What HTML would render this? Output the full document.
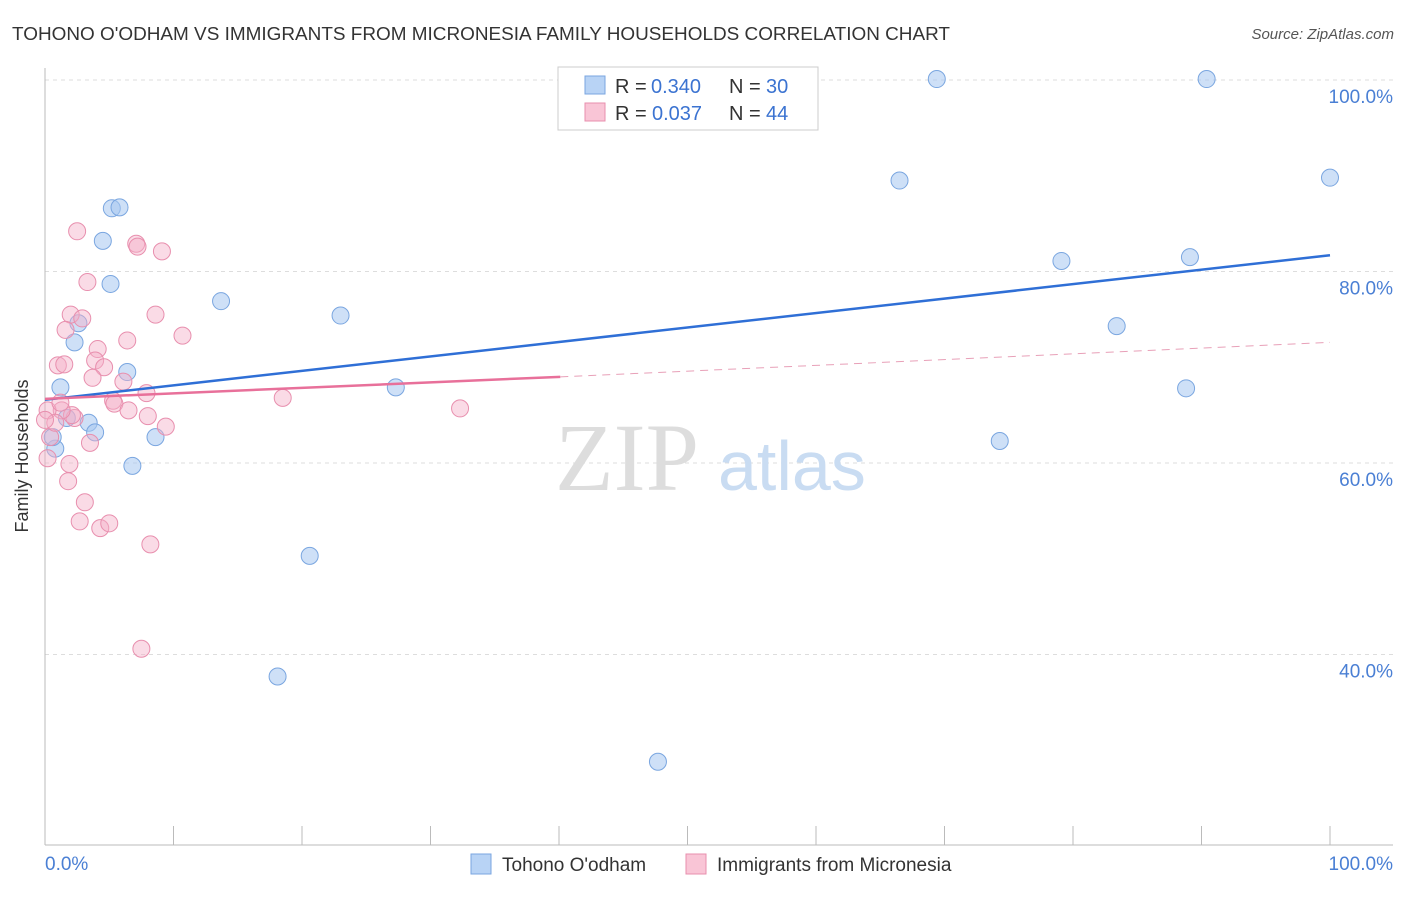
<!DOCTYPE html>
<html><head><meta charset="utf-8"><style>
body{margin:0;background:#fff;font-family:"Liberation Sans",sans-serif}
</style></head><body>
<svg id="c" width="1406" height="892" xmlns="http://www.w3.org/2000/svg" style="font-family:'Liberation Sans',sans-serif">
<text x="12" y="40" font-size="18" fill="#333" textLength="938" lengthAdjust="spacingAndGlyphs">TOHONO O'ODHAM VS IMMIGRANTS FROM MICRONESIA FAMILY HOUSEHOLDS CORRELATION CHART</text>
<text x="1394" y="39" font-size="15" fill="#555" text-anchor="end" font-style="italic">Source: ZipAtlas.com</text>
<g id="grid"></g>
<text x="555" y="490" font-size="96" fill="#ddd" font-family="Liberation Serif">ZIP</text>
<text x="718" y="490" font-size="70" fill="#c9dcf2">atlas</text>
<g id="marks"></g>
<text x="28" y="456" font-size="18" fill="#333" text-anchor="middle" transform="rotate(-90 28 456)">Family Households</text>
<text x="45" y="870" font-size="19" fill="#4a7fd4">0.0%</text>
<text x="1393" y="870" font-size="19" fill="#4a7fd4" text-anchor="end">100.0%</text>
<g>
<rect x="558" y="67" width="260" height="63" fill="#fff" stroke="#ccc"/>
<rect x="585" y="76" width="20" height="18" fill="#b8d3f5" stroke="#7aa6e0"/>
<rect x="585" y="103" width="20" height="18" fill="#f9c5d6" stroke="#e88fae"/>
<text y="93" font-size="20" fill="#333"><tspan x="615">R =</tspan><tspan x="651" fill="#3b73d1">0.340</tspan><tspan x="729">N =</tspan><tspan x="766" fill="#3b73d1">30</tspan></text>
<text y="120" font-size="20" fill="#333"><tspan x="615">R =</tspan><tspan x="652" fill="#3b73d1">0.037</tspan><tspan x="729">N =</tspan><tspan x="766" fill="#3b73d1">44</tspan></text>
</g>
<g>
<rect x="471" y="854" width="20" height="20" fill="#b8d3f5" stroke="#7aa6e0"/>
<text x="502" y="871" font-size="19" fill="#333">Tohono O'odham</text>
<rect x="686" y="854" width="20" height="20" fill="#f9c5d6" stroke="#e88fae"/>
<text x="717" y="871" font-size="19" fill="#333">Immigrants from Micronesia</text>
</g>
</svg>
<script>
const yTicks=[100,80,60,40];
const yTickLabels=["100.0%","80.0%","60.0%","40.0%"];
const xTicks=[0,10,20,30,40,50,60,70,80,90,100];
const blueX=[69.4,90.4,100,66.5,79.1,89.1,83.4,88.8,74.3,47.7,18.1,20.6,27.3,23.0,13.7,5.2,5.8,4.5,5.1,2.6,2.3,6.4,1.2,1.7,3.4,3.9,8.6,6.8,0.8,0.6];
const blueY=[100.1,100.1,89.8,89.5,81.1,81.5,74.3,67.8,62.3,28.8,37.7,50.3,67.9,75.4,76.9,86.6,86.7,83.2,78.7,74.6,72.6,69.5,67.9,64.7,64.2,63.2,62.7,59.7,61.5,62.7];
const pinkX=[2.5,7.1,7.2,9.1,3.3,2.0,2.9,8.6,1.6,10.7,6.4,4.1,1.0,1.5,3.9,4.6,3.7,6.1,7.9,5.3,5.4,6.5,8.0,2.3,2.1,1.3,0.2,1.2,9.4,3.5,0.4,0.8,1.9,1.8,3.1,2.7,4.3,5.0,8.2,7.5,32.3,18.5,0.2,0.0];
const pinkY=[84.2,82.9,82.6,82.1,78.9,75.5,75.1,75.5,73.9,73.3,72.8,71.9,70.2,70.3,70.7,70.0,68.9,68.5,67.3,66.5,66.2,65.5,64.9,64.7,65.0,65.5,65.5,66.3,63.8,62.1,62.7,64.2,59.9,58.1,55.9,53.9,53.2,53.7,51.5,40.6,65.7,66.8,60.5,64.5];
const blueTrend=[[0,66.6],[100,81.7]];
const pinkTrendSolid=[[0,66.7],[40.1,69.0]];
const pinkTrendDash=[[40.1,69.0],[100,72.6]];
const NS="http://www.w3.org/2000/svg";
const xs=v=>45+v*12.85;
const ys=v=>80+(100-v)*9.575;
function mk(t,a,p){const e=document.createElementNS(NS,t);for(const k in a)e.setAttribute(k,a[k]);p.appendChild(e);return e;}
const g=document.getElementById('grid'),m=document.getElementById('marks');
yTicks.forEach((v,i)=>{
 const l=mk('line',{x1:45,x2:1393,y1:ys(v),y2:ys(v),stroke:'#ddd','stroke-dasharray':'4,4'},g);
 
 
 const t=mk('text',{x:1393,y:ys(v)+23,'font-size':19,fill:'#4a7fd4','text-anchor':'end'},g);
 t.textContent=yTickLabels[i];
 
 
});
const ax=mk('line',{x1:45,x2:1393,y1:845,y2:845,stroke:'#bbb'},g);


const ay=mk('line',{x1:45,x2:45,y1:68,y2:845,stroke:'#bbb'},g);


xTicks.forEach(v=>{
 const t=mk('line',{x1:xs(v),x2:xs(v),y1:826,y2:845,stroke:'#bbb'},g);
 
 
});
blueX.forEach((v,i)=>{
 const c=mk('circle',{cx:xs(v),cy:ys(blueY[i]),r:8.5,fill:'rgba(165,198,240,0.55)',stroke:'#7aa6e0','stroke-width':1},m);
 
 
});
pinkX.forEach((v,i)=>{
 const c=mk('circle',{cx:xs(v),cy:ys(pinkY[i]),r:8.5,fill:'rgba(245,175,200,0.45)',stroke:'#e88fae','stroke-width':1},m);
 
 
});
function line(p,col,dash,name){
 const l=mk('line',{x1:xs(p[0][0]),y1:ys(p[0][1]),x2:xs(p[1][0]),y2:ys(p[1][1]),stroke:col,'stroke-width':dash?1:2.5},m);
 if(dash)l.setAttribute('stroke-dasharray','8,6');
 
 
}
line(blueTrend,'#2f6fd6',false,'trend-tohono');
line(pinkTrendSolid,'#e8709a',false,'trend-micronesia');
line(pinkTrendDash,'#e8a0b8',true,'trend-micronesia-extension');
</script>
</body></html>
